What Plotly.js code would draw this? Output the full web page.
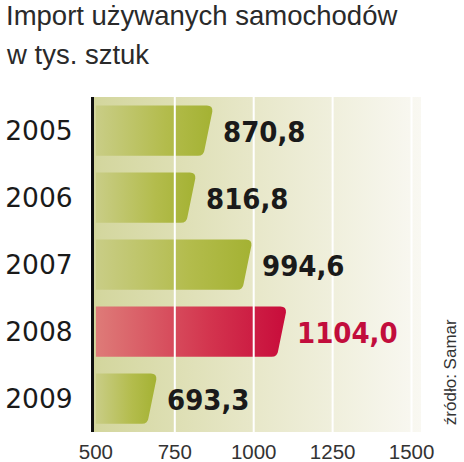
<!DOCTYPE html>
<html>
<head>
<meta charset="utf-8">
<script src="https://cdn.plot.ly/plotly-3.0.1.min.js"></script>
<style>
html,body{margin:0;padding:0;background:#fff;}
#chart{width:464px;height:462px;}
</style>
</head>
<body>
<div id="chart"></div>
<script>
// ---- data ----
const years = ['2005', '2006', '2007', '2008', '2009'];
const imports = [870.8, 816.8, 994.6, 1104.0, 693.3];
const valueLabels = ['870,8', '816,8', '994,6', '1104,0', '693,3'];
const xTicks = [500, 750, 1000, 1250, 1500];
const highlightYear = '2008';
const titleLines = ['Import używanych samochodów', 'w tys. sztuk'];
const sourceText = 'źródło: Samar';

// ---- style ----
const GREEN = '#afb94a';
const RED = '#cf2a48';
const RED_TEXT = '#c20d3c';
const barColors = years.map(y => y === highlightYear ? RED : GREEN);
const textColors = years.map(y => y === highlightYear ? RED_TEXT : '#1a1a1a');

const trace = {
  type: 'bar',
  orientation: 'h',
  y: years,
  x: imports.map(v => v - 500),
  base: 500,
  marker: {color: barColors, line: {width: 0}},
  width: 0.75,
  hoverinfo: 'skip'
};

const annotations = years.map((y, i) => ({
  x: imports[i], y: i, xref: 'x', yref: 'y',
  text: valueLabels[i], showarrow: false,
  xanchor: 'left', yanchor: 'middle', xshift: 8, yshift: -1,
  font: {family: 'DejaVu Sans Condensed', size: 29, color: textColors[i], weight: 700}
}));

annotations.push({
  xref: 'paper', yref: 'paper', x: -0.275, y: 1.243, xanchor: 'left', yanchor: 'middle',
  text: titleLines[0], showarrow: false,
  font: {family: 'Liberation Sans', size: 27.5, color: '#2a2a2a'}
});
annotations.push({
  xref: 'paper', yref: 'paper', x: -0.275, y: 1.128, xanchor: 'left', yanchor: 'middle',
  text: titleLines[1], showarrow: false,
  font: {family: 'Liberation Sans', size: 27.5, color: '#2a2a2a'}
});
annotations.push({
  xref: 'paper', yref: 'paper', x: 1.09, y: 0.18, xanchor: 'center', yanchor: 'middle',
  text: sourceText, showarrow: false, textangle: -90,
  font: {family: 'Liberation Sans', size: 17, color: '#333'}
});

const shapes = xTicks.slice(1).map(t => ({
  type: 'line', xref: 'x', yref: 'paper', x0: t, x1: t, y0: 0, y1: 1,
  line: {color: '#ffffff', width: 2}, layer: 'above'
}));

const layout = {
  width: 464, height: 462,
  margin: {l: 94, r: 43, t: 97, b: 30},
  paper_bgcolor: '#ffffff',
  plot_bgcolor: '#e6e7c8',
  showlegend: false,
  bargap: 0.25,
  xaxis: {
    range: [494, 1530],
    autorange: false,
    tickvals: xTicks,
    ticktext: xTicks.map(String),
    showgrid: false, zeroline: false, showline: false,
    ticks: 'outside', ticklen: 1, tickcolor: 'rgba(0,0,0,0)',
    tickfont: {family: 'Liberation Sans', size: 20.5, color: '#333'},
    fixedrange: true
  },
  yaxis: {
    type: 'category',
    categoryorder: 'array',
    categoryarray: years,
    range: [4.5, -0.5],
    autorange: false,
    showgrid: false, zeroline: false,
    showline: true, linecolor: '#111', linewidth: 3,
    ticks: 'outside', ticklen: 13, tickcolor: 'rgba(0,0,0,0)',
    tickfont: {family: 'DejaVu Sans', size: 26.5, color: '#1a1a1a'},
    fixedrange: true
  },
  annotations: annotations,
  shapes: shapes
};

Plotly.newPlot('chart', [trace], layout, {staticPlot: true, displayModeBar: false}).then(gd => {
  const NS = 'http://www.w3.org/2000/svg';
  const svg = gd.querySelector('svg.main-svg');
  const defs = document.createElementNS(NS, 'defs');
  function grad(id, stops) {
    const g = document.createElementNS(NS, 'linearGradient');
    g.setAttribute('id', id);
    g.setAttribute('x1', '0'); g.setAttribute('y1', '0');
    g.setAttribute('x2', '1'); g.setAttribute('y2', '0');
    stops.forEach(([o, c]) => {
      const s = document.createElementNS(NS, 'stop');
      s.setAttribute('offset', o); s.setAttribute('stop-color', c);
      g.appendChild(s);
    });
    defs.appendChild(g);
  }
  grad('gGreen', [[0, '#c9cd86'], [0.6, '#b3bc4c'], [1, '#a4b233']]);
  grad('gRed', [[0, '#de7b78'], [0.6, '#d3344e'], [1, '#c80c3b']]);
  grad('gBg', [[0, '#d3d69d'], [0.45, '#e6e6c6'], [1, '#f9f8f2']]);
  svg.insertBefore(defs, svg.firstChild);

  const bg = gd.querySelector('.bglayer rect.bg');
  if (bg) bg.style.fill = 'url(#gBg)';

  const paths = gd.querySelectorAll('.barlayer .point path');
  paths.forEach((p, i) => {
    p.style.fill = years[i] === highlightYear ? 'url(#gRed)' : 'url(#gGreen)';
    const d = p.getAttribute('d');
    const m = d.match(/M([\d.\-]+),([\d.\-]+)V([\d.\-]+)H([\d.\-]+)V([\d.\-]+)Z/);
    if (!m) return;
    const x0 = +m[1], ya = +m[2], yb = +m[3], x1 = +m[4];
    const top = Math.min(ya, yb), bot = Math.max(ya, yb);
    const s = 9, r = 6;
    const nd = 'M' + x0 + ',' + top +
      'L' + (x1 - r) + ',' + top +
      'Q' + x1 + ',' + top + ' ' + (x1 - 0.6) + ',' + (top + r) +
      'L' + (x1 - s + 0.6) + ',' + (bot - r) +
      'Q' + (x1 - s) + ',' + bot + ' ' + (x1 - s - r) + ',' + bot +
      'L' + x0 + ',' + bot + 'Z';
    p.setAttribute('d', nd);
  });
});
</script>
</body>
</html>
